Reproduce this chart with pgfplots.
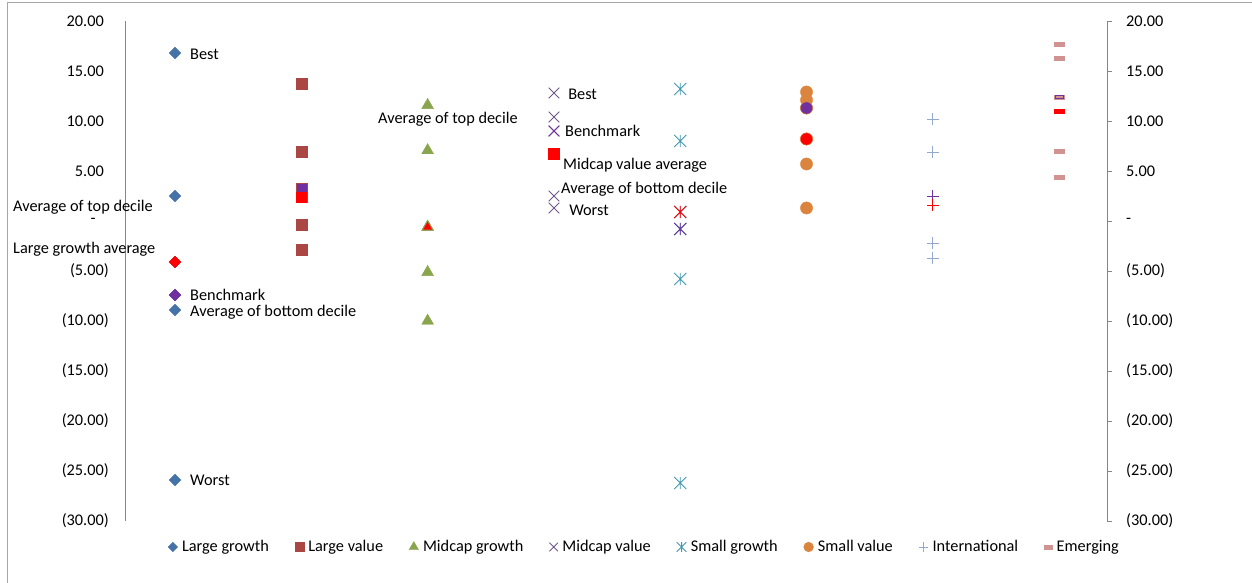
\documentclass[border=0pt]{standalone}
\usepackage{pgfplots}
\pgfplotsset{compat=1.18}
\usepackage{fontspec}
\setmainfont{Carlito}
\definecolor{lg}{HTML}{4572A7}
\definecolor{lv}{HTML}{AA4643}
\definecolor{mg}{HTML}{89A54E}
\definecolor{mv}{HTML}{71588F}
\definecolor{sg}{HTML}{4198AF}
\definecolor{sv}{HTML}{DB843D}
\definecolor{intl}{HTML}{93A9CF}
\definecolor{em}{HTML}{D19392}
\definecolor{hp}{HTML}{7030A0}
\definecolor{hr}{HTML}{FF0000}
\definecolor{axgray}{HTML}{868686}
\pgfdeclareplotmark{xstar}{%
  \pgfpathmoveto{\pgfqpoint{-.7071\pgfplotmarksize}{-.7071\pgfplotmarksize}}%
  \pgfpathlineto{\pgfqpoint{.7071\pgfplotmarksize}{.7071\pgfplotmarksize}}%
  \pgfpathmoveto{\pgfqpoint{-.7071\pgfplotmarksize}{.7071\pgfplotmarksize}}%
  \pgfpathlineto{\pgfqpoint{.7071\pgfplotmarksize}{-.7071\pgfplotmarksize}}%
  \pgfpathmoveto{\pgfqpoint{0pt}{-.7071\pgfplotmarksize}}%
  \pgfpathlineto{\pgfqpoint{0pt}{.7071\pgfplotmarksize}}%
  \pgfusepathqstroke}
\newcommand{\fs}{\fontsize{16.3}{19}\selectfont}
\begin{document}
\begin{tikzpicture}[font=\fs]
\path[use as bounding box] (-125pt,-62pt) rectangle (1127pt,521pt);
\draw[black!35, line width=0.8pt] (-118pt,-62pt) -- (-118pt,519pt) -- (1127pt,519pt);
\pgfplotsset{
  common/.style={
    at={(0pt,0pt)}, anchor=south west, scale only axis,
    width=982pt, height=500pt,
    xmin=-0.396, xmax=7.379, ymin=-30, ymax=20,
    axis x line=none,
    axis line style={-, axgray, line width=0.8pt},
    ytick={-30,-25,...,20},
    tick style={axgray, line width=0.8pt},
  }
}
\begin{axis}[common,
  axis y line*=right,
  tick align=outside, major tick length=5pt,
  yticklabels={(30.00),(25.00),(20.00),(15.00),(10.00),(5.00),-,5.00,10.00,15.00,20.00},
  yticklabel style={anchor=west, inner sep=0pt, xshift=14pt, font=\fs},
]
\end{axis}
\begin{axis}[common,
  clip=false,
  axis y line*=left,
  major tick length=0pt,
  yticklabels={(30.00),(25.00),(20.00),(15.00),(10.00),(5.00),{-\hphantom{0)}},5.00\hphantom{)},10.00\hphantom{)},15.00\hphantom{)},20.00\hphantom{)}},
  yticklabel style={anchor=east, inner sep=0pt, xshift=-16pt, font=\fs},
  legend columns=8,
  legend style={draw=none, fill=none, at={(0.529,-0.052)}, anchor=center, font=\fs,
    /tikz/every odd column/.append style={column sep=2.5pt},
    /tikz/every even column/.append style={column sep=24pt}},
  legend image code/.code={\path[draw=none, fill=none] (0pt,-4pt) rectangle (8pt,4pt); \draw[mark repeat=2, mark phase=2, #1, every mark/.append style={scale=0.8}] plot coordinates {(0pt,0pt) (4pt,0pt) (8pt,0pt)};},
]
% main series
\addplot[only marks, color=lg, mark=square*, mark options={rotate=45, fill=lg, draw=lg}, mark size=4.2pt]
  coordinates {(0,16.8) (0,2.5) (0,-4.1) (0,-7.4) (0,-8.9) (0,-25.9)};
\addlegendentry{Large growth}
\addplot[only marks, color=lv, mark=square*, mark options={fill=lv, draw=lv}, mark size=5.6pt]
  coordinates {(1,13.7) (1,6.9) (1,3.2) (1,2.4) (1,-0.4) (1,-2.9)};
\addlegendentry{Large value}
\addplot[only marks, color=mg, mark=triangle*, mark options={fill=mg, draw=mg}, mark size=6.8pt]
  coordinates {(2,11.58) (2,7.06) (2,-0.6) (2,-5.12) (2,-9.99)};
\addlegendentry{Midcap growth}
\addplot[only marks, color=mv, mark=x, mark options={draw=mv, line width=0.9pt}, mark size=7.5pt]
  coordinates {(3,12.8) (3,10.4) (3,9.0) (3,2.5) (3,1.3)};
\addlegendentry{Midcap value}
\addplot[only marks, color=sg, mark=xstar, mark options={draw=sg, line width=0.9pt}, mark size=8.5pt]
  coordinates {(4,13.2) (4,8.0) (4,0.9) (4,-0.8) (4,-5.8) (4,-26.2)};
\addlegendentry{Small growth}
\addplot[only marks, color=sv, mark=*, mark options={fill=sv, draw=sv}, mark size=6.1pt]
  coordinates {(5,12.9) (5,12.1) (5,11.3) (5,8.2) (5,5.7) (5,1.3)};
\addlegendentry{Small value}
\addplot[only marks, color=intl, mark=+, mark options={draw=intl, line width=0.9pt}, mark size=5.8pt]
  coordinates {(6,10.2) (6,6.9) (6,2.5) (6,1.6) (6,-2.2) (6,-3.7)};
\addlegendentry{International}
\addplot[only marks, color=em, mark=square*, mark options={fill=em, draw=em, line width=0.1pt, xscale=2.3}, mark size=2pt]
  coordinates {(7,17.7) (7,16.3) (7,12.4) (7,11.0) (7,7.0) (7,4.4)};
\addlegendentry{Emerging}
% highlights: benchmark (purple) and category average (red)
\addplot[forget plot, only marks, color=hr, mark=square*, mark options={rotate=45, fill=hr, draw=hr}, mark size=4.2pt]
  coordinates {(0,-4.1)};
\addplot[forget plot, only marks, color=hp, mark=square*, mark options={rotate=45, fill=hp, draw=hp}, mark size=4.2pt]
  coordinates {(0,-7.4)};
\addplot[forget plot, only marks, color=hp, mark=square*, mark options={fill=hp, draw=lv}, mark size=5.6pt]
  coordinates {(1,3.2)};
\addplot[forget plot, only marks, color=hr, mark=square*, mark options={fill=hr, draw=hr}, mark size=5.0pt]
  coordinates {(1,2.4)};
\addplot[forget plot, only marks, color=hr, mark=triangle*, mark options={fill=hr, draw=mg, line width=1pt}, mark size=6.4pt]
  coordinates {(2,-0.6)};
\addplot[forget plot, only marks, color=hp, mark=x, mark options={draw=hp, line width=0.9pt}, mark size=7.5pt]
  coordinates {(3,9.0)};
\addplot[forget plot, only marks, color=hr, mark=square*, mark options={fill=hr, draw=hr}, mark size=5.4pt]
  coordinates {(3,6.7)};
\addplot[forget plot, only marks, color=hr, mark=xstar, mark options={draw=hr, line width=0.9pt}, mark size=8.5pt]
  coordinates {(4,0.9)};
\addplot[forget plot, only marks, color=hp, mark=xstar, mark options={draw=hp, line width=0.9pt}, mark size=8.5pt]
  coordinates {(4,-0.8)};
\addplot[forget plot, only marks, color=hp, mark=*, mark options={fill=hp, draw=sv}, mark size=6.1pt]
  coordinates {(5,11.3)};
\addplot[forget plot, only marks, color=hr, mark=*, mark options={fill=hr, draw=sv}, mark size=6.1pt]
  coordinates {(5,8.2)};
\addplot[forget plot, only marks, color=hp, mark=+, mark options={draw=hp, line width=0.9pt}, mark size=5.8pt]
  coordinates {(6,2.5)};
\addplot[forget plot, only marks, color=hr, mark=+, mark options={draw=hr, line width=0.9pt}, mark size=5.8pt]
  coordinates {(6,1.6)};
\addplot[forget plot, only marks, color=hp, mark=square*, mark options={fill=em, draw=hp, line width=0.9pt, xscale=2.3}, mark size=1.8pt]
  coordinates {(7,12.4)};
\addplot[forget plot, only marks, color=hr, mark=square*, mark options={fill=hr, draw=hr, line width=0.1pt, xscale=2.3}, mark size=2pt]
  coordinates {(7,11.0)};
% labels
\begin{scope}[every node/.style={anchor=west, inner sep=0pt, text height=0.66em, text depth=0pt, font=\fs}]
\node at (axis cs:0.119,16.5) {Best};
\node at (axis cs:-1.283,1.25) {Average of top decile};
\node at (axis cs:-1.283,-2.9) {Large growth average};
\node at (axis cs:0.119,-7.6) {Benchmark};
\node at (axis cs:0.119,-9.2) {Average of bottom decile};
\node at (axis cs:0.119,-26.1) {Worst};
\node at (axis cs:1.607,10.1) {Average of top decile};
\node at (axis cs:3.112,12.5) {Best};
\node at (axis cs:3.088,8.8) {Benchmark};
\node at (axis cs:3.072,5.5) {Midcap value average};
\node at (axis cs:3.056,3.1) {Average of bottom decile};
\node at (axis cs:3.120,0.9) {Worst};
\end{scope}
\end{axis}
\end{tikzpicture}
\end{document}
